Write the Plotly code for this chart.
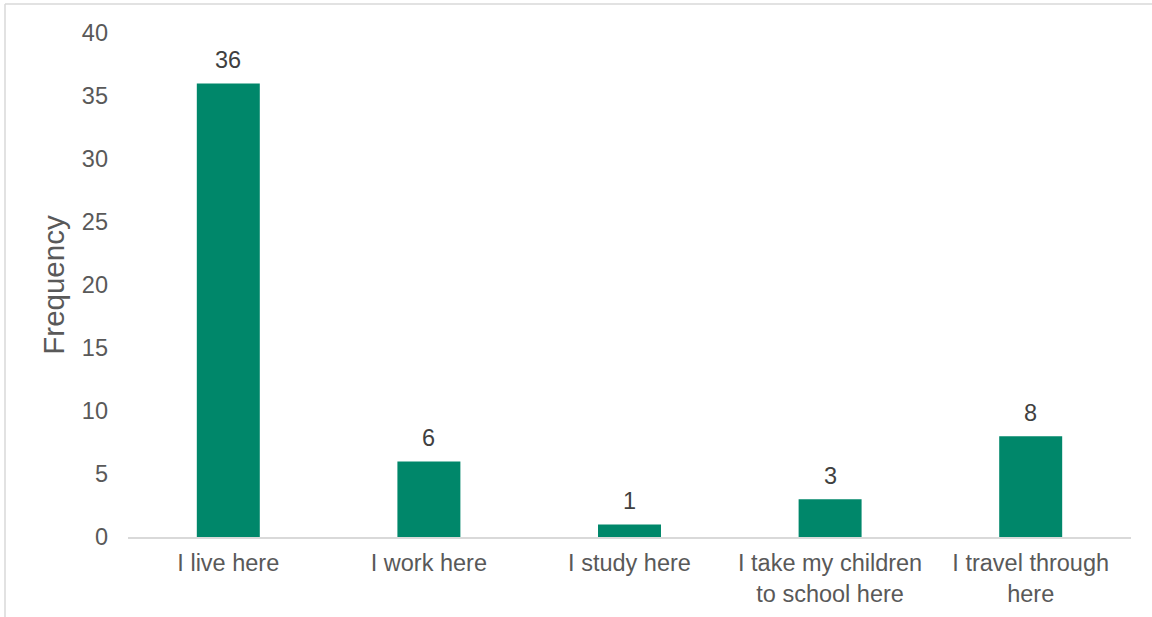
import plotly.graph_objects as go

categories = [
    "I live here",
    "I work here",
    "I study here",
    "I take my children<br>to school here",
    "I travel through<br>here",
]
frequency = [36, 6, 1, 3, 8]
y_ticks = [0, 5, 10, 15, 20, 25, 30, 35, 40]

BAR = "#00876A"
TEXT = "#595959"
FONT = "Liberation Sans, Arial, sans-serif"

fig = go.Figure(
    go.Bar(
        x=categories,
        y=frequency,
        marker=dict(color=BAR, line=dict(width=0)),
        cliponaxis=False,
    )
)

# value labels above each bar
for cat, val in zip(categories, frequency):
    fig.add_annotation(
        x=cat, y=val, text=str(val),
        xref="x", yref="y",
        showarrow=False, yanchor="bottom", yshift=9, borderpad=0,
        font=dict(family=FONT, size=23.5, color="#404040"),
    )

L, R, T, B = 128, 21, 33, 80
W, H = 1152, 617
pw, ph = W - L - R, H - T - B

fig.update_layout(
    width=W,
    height=H,
    margin=dict(l=L, r=R, t=T, b=B),
    paper_bgcolor="white",
    plot_bgcolor="white",
    bargap=0.686,
    showlegend=False,
    font=dict(family=FONT, size=23.5, color=TEXT),
    xaxis=dict(
        showline=True,
        linecolor="#D9D9D9",
        linewidth=1.5,
        showgrid=False,
        ticks="",
        ticklabelstandoff=4,
        tickfont=dict(size=23.5, color=TEXT),
        automargin=False,
        fixedrange=True,
    ),
    yaxis=dict(
        range=[0, 40],
        tickvals=y_ticks,
        showgrid=False,
        zeroline=False,
        showline=False,
        ticks="",
        ticklabelstandoff=19,
        tickfont=dict(size=23.5, color=TEXT),
        title=dict(text="Frequency", font=dict(size=29.5, color=TEXT), standoff=8),
        automargin=False,
        fixedrange=True,
    ),
    shapes=[
        # chart frame (top and left edges)
        dict(type="line", xref="paper", yref="paper",
             x0=(5 - L) / pw, x1=1 + R / pw,
             y0=1 + (T - 4) / ph, y1=1 + (T - 4) / ph,
             line=dict(color="#D9D9D9", width=1.5)),
        dict(type="line", xref="paper", yref="paper",
             x0=(5 - L) / pw, x1=(5 - L) / pw,
             y0=1 + (T - 4) / ph, y1=-B / ph,
             line=dict(color="#D9D9D9", width=1.5)),
    ],
)

fig.write_html("out.html")
